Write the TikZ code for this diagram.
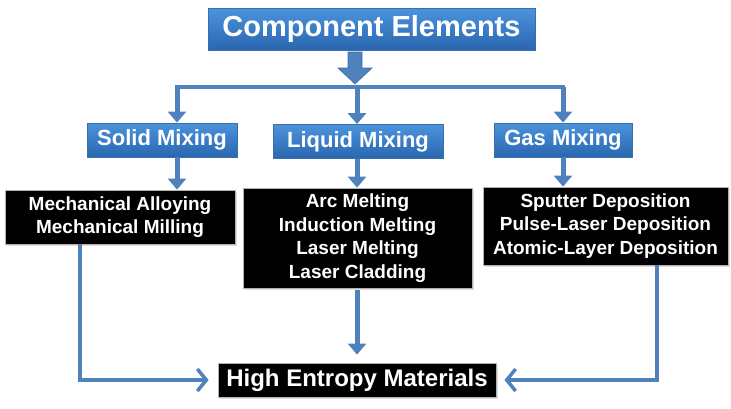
\documentclass[tikz,border=0pt]{standalone}
\usepackage{fontspec}
\setmainfont{Liberation Sans}
\usetikzlibrary{arrows.meta,shadows}
\definecolor{lineblue}{HTML}{4F81BD}
\definecolor{boxtop}{HTML}{4B93DC}
\definecolor{boxbot}{HTML}{2A66B0}
\definecolor{boxedge}{HTML}{3A6FAE}
\tikzset{
  bluebox/.style={draw=boxedge, line width=0.8pt, top color=boxtop, bottom color=boxbot,
    text=white, font=\bfseries, inner sep=0pt, anchor=center},
  blackbox/.style={draw=gray!60, line width=0.8pt, fill=black, text=white, align=center,
    font=\fontsize{19}{23.5}\selectfont\bfseries, inner sep=0pt, anchor=center,
    drop shadow={shadow xshift=1.5pt, shadow yshift=-1.5pt, opacity=0.25}},
  flowline/.style={draw=lineblue, line width=4pt},
  downarrow/.style={draw=lineblue, line width=5pt, -{Triangle[width=18pt,length=11pt]}},
  sidearrow/.style={draw=lineblue, line width=3.5pt, line join=miter,
    -{Straight Barb[length=9pt,width=22pt,line width=3.5pt]}},
}
\begin{document}
\begin{tikzpicture}[x=1pt,y=-1pt]
\useasboundingbox (0,0) rectangle (731,408);
% title
\node[bluebox, minimum width=327pt, minimum height=42pt, font=\fontsize{29}{34}\selectfont\bfseries] (title) at (371.5,29) {Component Elements};
% block arrow under title
\fill[lineblue, draw=boxedge, line width=0.6pt] (348,52) -- (362,52) -- (362,68) -- (372,68) -- (355,84) -- (338,68) -- (348,68) -- cycle;
% mixing boxes
\node[bluebox, minimum width=150pt, minimum height=34pt, font=\fontsize{22}{26}\selectfont\bfseries] (solid) at (162,140) {Solid Mixing};
\node[bluebox, minimum width=170pt, minimum height=34pt, font=\fontsize{22}{26}\selectfont\bfseries] (liquid) at (358,141.5) {Liquid Mixing};
\node[bluebox, minimum width=138pt, minimum height=34pt, font=\fontsize{22}{26}\selectfont\bfseries] (gas) at (563,140) {Gas Mixing};
% distribution line
\coordinate (hl) at (177,87);
\coordinate (hm) at (357,87);
\coordinate (hr) at (563,87);
\draw[flowline, line cap=rect] (hl) -- (hr);
\draw[downarrow] (hl) -- (solid.north -| hl);
\draw[downarrow] (hm) -- (liquid.north -| hm);
\draw[downarrow] (hr) -- (gas.north -| hr);
% process boxes
\node[blackbox, minimum width=230pt, minimum height=54pt] (mech) at (120,217) {Mechanical Alloying\\Mechanical Milling};
\node[blackbox, minimum width=229pt, minimum height=100pt] (liqb) at (357.5,238) {Arc Melting\\Induction Melting\\Laser Melting\\Laser Cladding};
\node[blackbox, minimum width=245pt, minimum height=78pt] (gasb) at (605.5,226) {Sputter Deposition\\Pulse-Laser Deposition\\Atomic-Layer Deposition};
\draw[downarrow] (solid.south -| hl) -- (mech.north -| hl);
\draw[downarrow] (liquid.south -| hm) -- (liqb.north -| hm);
\draw[downarrow] (gas.south -| hr) -- (gasb.north -| hr);
% result
\node[blackbox, minimum width=278pt, minimum height=34pt, font=\fontsize{24}{28}\selectfont\bfseries] (hem) at (357,380) {High Entropy Materials};
\coordinate (lx) at (80,0);
\coordinate (rx) at (657,0);
\draw[downarrow] ([yshift=-2pt]liqb.south -| hm) -- ([yshift=8pt]hem.north -| hm);
\draw[sidearrow] (mech.south -| lx) |- ([xshift=-9pt]hem.west);
\draw[sidearrow] (gasb.south -| rx) |- ([xshift=8pt]hem.east);
\end{tikzpicture}
\end{document}
